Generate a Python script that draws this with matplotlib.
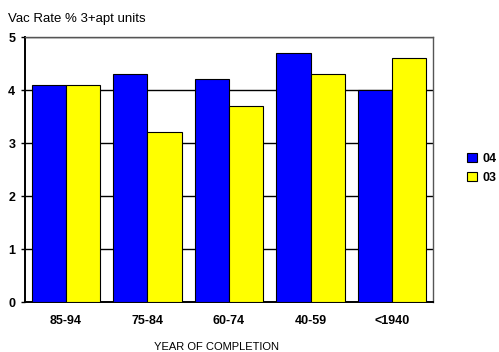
import matplotlib
matplotlib.use("Agg")
import matplotlib.pyplot as plt
import numpy as np

plt.rcParams['font.family'] = ['Liberation Sans', 'DejaVu Sans']

categories = ["85-94", "75-84", "60-74", "40-59", "<1940"]
vac_04 = [4.1, 4.3, 4.2, 4.7, 4.0]
vac_03 = [4.1, 3.2, 3.7, 4.3, 4.6]
y_ticks = [0, 1, 2, 3, 4, 5]

fig = plt.figure(figsize=(4.99, 3.52), dpi=100)
ax = fig.add_axes([0.0501, 0.142, 0.8176, 0.7528])

x = np.arange(len(categories))
w = 0.42
b1 = ax.bar(x - w / 2, vac_04, w, color="#0000ff", edgecolor="black", linewidth=0.8, label="04", zorder=3)
b2 = ax.bar(x + w / 2, vac_03, w, color="#ffff00", edgecolor="black", linewidth=0.8, label="03", zorder=3)

ax.set_xlim(-0.5, len(categories) - 0.5)
ax.set_ylim(0, 5)
ax.set_yticks(y_ticks)
ax.set_yticklabels([str(v) for v in y_ticks], fontweight="bold", fontsize=9)
ax.set_xticks(x)
ax.set_xticklabels(categories, fontweight="bold", fontsize=9)
ax.tick_params(axis="x", length=0, pad=9)
ax.tick_params(axis="y", length=3, width=1, pad=4)
ax.yaxis.grid(True, color="black", linewidth=1, zorder=0)
ax.set_axisbelow(True)

for side in ["left", "bottom"]:
    ax.spines[side].set_linewidth(1.4)
    ax.spines[side].set_color("black")
for side in ["top", "right"]:
    ax.spines[side].set_linewidth(1.0)
    ax.spines[side].set_color("#555555")

ax.set_xlabel("YEAR OF COMPLETION", fontsize=8)
ax.xaxis.set_label_coords(0.47, -0.15)
fig.text(0.016, 0.945, "Vac Rate % 3+apt units", fontsize=9.5, ha="left", va="center")

leg = fig.legend(handles=[b1, b2], labels=["04", "03"], loc="center left",
                 bbox_to_anchor=(0.936, 0.522), frameon=False,
                 prop={"weight": "bold", "size": 9},
                 handlelength=0.8, handleheight=0.8, handletextpad=0.4,
                 labelspacing=0.55, borderpad=0, borderaxespad=0)

fig.savefig("out.png", dpi=100)
